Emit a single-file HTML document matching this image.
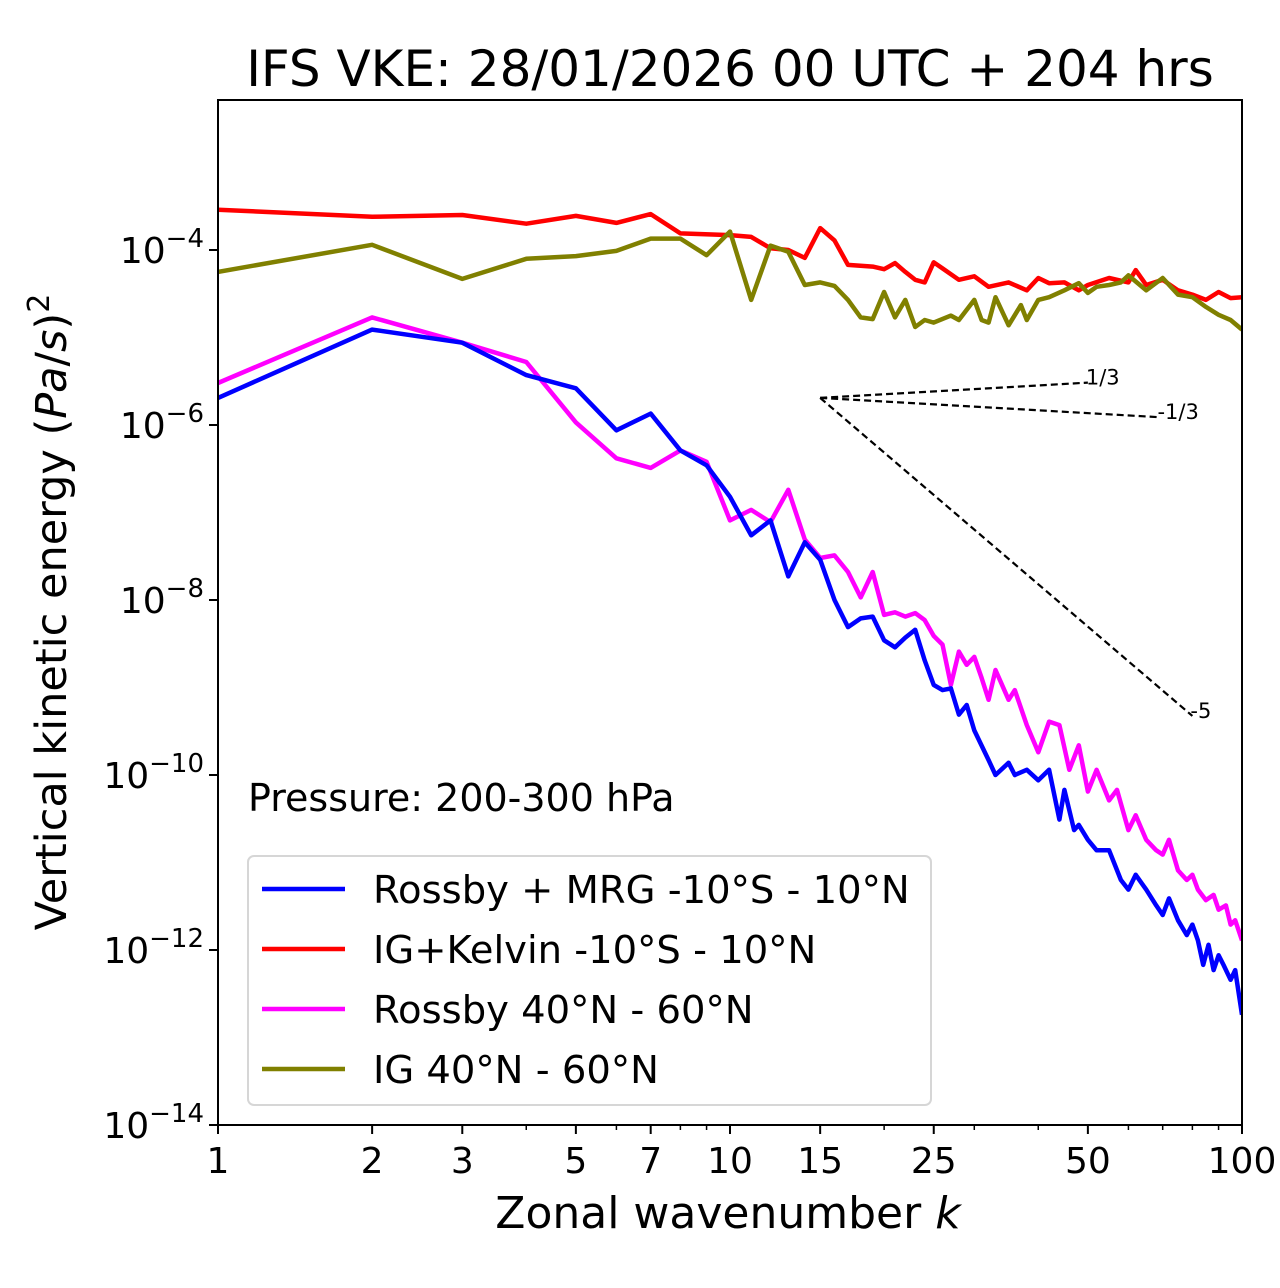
<!DOCTYPE html>
<html><head><meta charset="utf-8"><style>
html,body{margin:0;padding:0;background:#fff;}
svg{display:block;font-family:"DejaVu Sans","Liberation Sans",sans-serif;}
</style></head><body>
<svg id="chart" width="1280" height="1288" viewBox="0 0 1280 1288" xmlns="http://www.w3.org/2000/svg">
<rect width="1280" height="1288" fill="#fff"/>
<text x="730" y="86" font-size="50" text-anchor="middle">IFS VKE: 28/01/2026 00 UTC + 204 hrs</text>
<g id="series"></g>
<g id="axes"></g>
<text x="248" y="811" font-size="38">Pressure: 200-300 hPa</text>
<g id="legend"></g>
<text x="728" y="1228" font-size="44" text-anchor="middle">Zonal wavenumber <tspan font-style="italic">k</tspan></text>
<text transform="translate(66,612) rotate(-90)" font-size="43" text-anchor="middle">Vertical kinetic energy (<tspan font-style="italic">Pa</tspan>/<tspan font-style="italic">s</tspan>)<tspan dy="-17" font-size="30">2</tspan></text>
</svg>
<script>
// data: wavenumbers and log10 of VKE
const redK=[1,2,3,4,5,6,7,8,10,11,12,13,14,15,16,17,19,20,21,22,23,24,25,26,28,30,32,35,38,40,42,45,48,50,55,60,62,65,70,75,80,85,90,95,100];
const redLog=[-3.54,-3.62,-3.60,-3.70,-3.61,-3.69,-3.59,-3.81,-3.83,-3.85,-3.98,-4.00,-4.09,-3.75,-3.89,-4.17,-4.19,-4.22,-4.15,-4.25,-4.34,-4.37,-4.14,-4.21,-4.34,-4.30,-4.42,-4.37,-4.46,-4.32,-4.38,-4.37,-4.46,-4.40,-4.32,-4.37,-4.23,-4.40,-4.34,-4.46,-4.51,-4.57,-4.48,-4.55,-4.54];
const oliveK=[1,2,3,4,5,6,7,8,9,10,11,12,13,14,15,16,17,18,19,20,21,22,23,24,25,27,28,30,31,32,33,35,37,38,40,42,45,48,50,52,55,58,60,65,70,75,80,85,90,95,100];
const oliveLog=[-4.25,-3.94,-4.33,-4.10,-4.07,-4.01,-3.87,-3.87,-4.06,-3.79,-4.57,-3.95,-4.02,-4.40,-4.37,-4.41,-4.57,-4.77,-4.79,-4.48,-4.77,-4.57,-4.88,-4.80,-4.83,-4.75,-4.80,-4.57,-4.80,-4.83,-4.54,-4.86,-4.63,-4.80,-4.57,-4.54,-4.46,-4.38,-4.49,-4.42,-4.40,-4.37,-4.29,-4.46,-4.32,-4.51,-4.54,-4.65,-4.74,-4.80,-4.91];
const blueK=[1,2,3,4,5,6,7,8,9,10,11,12,13,14,15,16,17,18,19,20,21,22,23,24,25,26,27,28,29,30,32,33,35,36,38,40,42,44,45,47,48,50,52,55,58,60,62,65,68,70,72,75,78,80,82,84,86,88,90,92,95,97,100];
const blueLog=[-5.69,-4.91,-5.06,-5.43,-5.58,-6.06,-5.87,-6.29,-6.46,-6.82,-7.26,-7.09,-7.73,-7.34,-7.54,-8.00,-8.31,-8.21,-8.19,-8.46,-8.54,-8.43,-8.34,-8.69,-8.97,-9.03,-9.01,-9.31,-9.20,-9.49,-9.83,-10.00,-9.86,-10.00,-9.94,-10.06,-9.94,-10.51,-10.17,-10.63,-10.57,-10.74,-10.86,-10.86,-11.20,-11.31,-11.14,-11.31,-11.49,-11.60,-11.41,-11.66,-11.83,-11.71,-11.89,-12.17,-11.94,-12.23,-12.06,-12.17,-12.34,-12.23,-12.74];
const magK=[1,2,3,4,5,6,7,8,9,10,11,12,13,14,15,16,17,18,19,20,21,22,23,24,25,26,27,28,29,30,31,32,33,35,36,38,40,42,44,46,48,50,52,55,57,60,62,65,68,70,72,75,78,80,82,85,88,90,93,95,97,100];
const magLog=[-5.52,-4.77,-5.06,-5.28,-5.97,-6.38,-6.49,-6.29,-6.42,-7.09,-6.97,-7.11,-6.74,-7.31,-7.52,-7.49,-7.68,-7.97,-7.68,-8.17,-8.14,-8.19,-8.15,-8.23,-8.41,-8.51,-8.97,-8.59,-8.74,-8.65,-8.89,-9.14,-8.80,-9.14,-9.03,-9.43,-9.74,-9.39,-9.43,-9.94,-9.66,-10.19,-9.94,-10.29,-10.17,-10.63,-10.46,-10.74,-10.86,-10.91,-10.74,-11.09,-11.20,-11.14,-11.31,-11.43,-11.37,-11.54,-11.49,-11.71,-11.66,-11.89];
const xTickVals=[1,2,3,5,7,10,15,25,50,100];
const xMinorVals=[4,6,8,9,20,30,40,60,70,80,90];
const yTickExps=[-4,-6,-8,-10,-12,-14];
const slopes=[1/3,-1/3,-5];
const slopeLabels=["1/3","-1/3","-5"];
const slopeEndK=[50,69,80];
const refK=15, refLog=-5.69;
const legendLabels=["Rossby + MRG -10°S - 10°N","IG+Kelvin -10°S - 10°N","Rossby 40°N - 60°N","IG 40°N - 60°N"];

const X0=218,X1=1242,Y0=100,Y1=1125;
const sx=k=>X0+(X1-X0)*Math.log10(k)/2;
const sy=l=>Y1-(l+14)*87.5;
const NS="http://www.w3.org/2000/svg";
function mk(tag,attrs,parent){const e=document.createElementNS(NS,tag);for(const a in attrs)e.setAttribute(a,attrs[a]);parent.appendChild(e);return e;}
const ser=document.getElementById('series'),ax=document.getElementById('axes'),lg=document.getElementById('legend');
const cp=mk('clipPath',{id:'clip'},ser);mk('rect',{x:X0,y:Y0,width:X1-X0,height:Y1-Y0},cp);
function line(ks,ls,color,name){
 const p=mk('polyline',{points:ks.map((k,i)=>sx(k).toFixed(1)+','+sy(ls[i]).toFixed(1)).join(' '),fill:'none',stroke:color,'stroke-width':4.5,'stroke-linejoin':'round','clip-path':'url(#clip)'},ser);
 
 
}
line(redK,redLog,'#ff0000','ig-kelvin-line');
line(oliveK,oliveLog,'#808000','ig-midlat-line');
line(magK,magLog,'#ff00ff','rossby-midlat-line');
line(blueK,blueLog,'#0000ff','rossby-mrg-line');
slopes.forEach((s,i)=>{
 const k2=slopeEndK[i],l2=refLog+s*Math.log10(k2/refK);
 const l=mk('line',{x1:sx(refK),y1:sy(refLog),x2:sx(k2),y2:sy(l2),stroke:'#000','stroke-width':2.2,'stroke-dasharray':'7,4'},ser);
 
 
 const t=mk('text',{x:sx(k2)-2,y:sy(l2)+2,'font-size':21},ser);t.textContent=slopeLabels[i];
 
 
});
const fr=mk('rect',{x:X0,y:Y0,width:X1-X0,height:Y1-Y0,fill:'none',stroke:'#000','stroke-width':2},ax);


xTickVals.forEach(k=>{
 mk('line',{x1:sx(k),x2:sx(k),y1:Y1,y2:Y1+9,stroke:'#000','stroke-width':2},ax);
 const t=mk('text',{x:sx(k),y:Y1+48,'font-size':36,'text-anchor':'middle'},ax);t.textContent=k;
 
 
});
xMinorVals.forEach(k=>mk('line',{x1:sx(k),x2:sx(k),y1:Y1,y2:Y1+5,stroke:'#000','stroke-width':1.5},ax));
yTickExps.forEach(e=>{
 mk('line',{x1:X0-9,x2:X0,y1:sy(e),y2:sy(e),stroke:'#000','stroke-width':2},ax);
 const t=mk('text',{x:X0-14,y:sy(e)+13,'font-size':36,'text-anchor':'end'},ax);
 
 
 const a=document.createElementNS(NS,'tspan');a.textContent='10';t.appendChild(a);
 const b=document.createElementNS(NS,'tspan');b.setAttribute('dy','-16');b.setAttribute('font-size','26');b.textContent='\u2212'+(-e);t.appendChild(b);
});
const lb=mk('rect',{x:248,y:856,width:683,height:249,rx:6,fill:'#fff','fill-opacity':0.8,stroke:'#d6d6d6','stroke-width':2},lg);


const cols=['#0000ff','#ff0000','#ff00ff','#808000'];
legendLabels.forEach((s,i)=>{
 const y=889+i*60;
 const l=mk('line',{x1:262,x2:345,y1:y,y2:y,stroke:cols[i],'stroke-width':4.5},lg);
 
 
 const t=mk('text',{x:373,y:y+14,'font-size':38.5},lg);t.textContent=s;
 
 
});
</script>
</body></html>
